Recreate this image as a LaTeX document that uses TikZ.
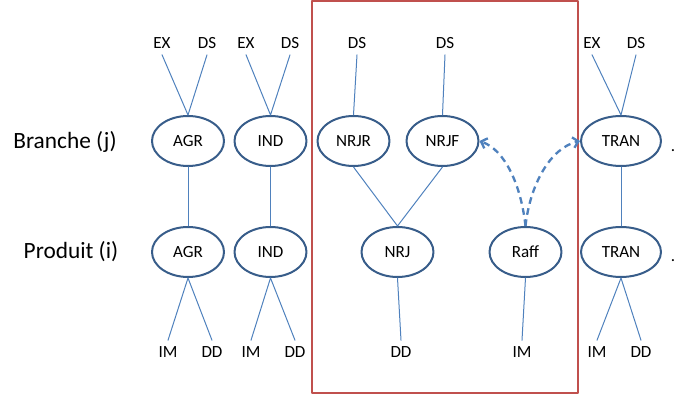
\documentclass[tikz,border=0pt]{standalone}
\usepackage{fontspec}
\setmainfont{Carlito}
\usetikzlibrary{shapes.geometric,arrows.meta}
\definecolor{ligne}{HTML}{4F81BD}
\definecolor{bord}{HTML}{385D8A}
\definecolor{cadre}{HTML}{C0504D}
\begin{document}
\begin{tikzpicture}[x=0.75pt,y=-0.75pt,>={Straight Barb[length=4pt,width=8pt]},line join=round,line cap=round,
	sec/.style={ellipse,draw=bord,line width=1.5pt,minimum width=54pt,minimum height=37.5pt,inner sep=1pt,font=\fontsize{12.8}{15}\selectfont},
	flux/.style={inner sep=4.5pt,font=\fontsize{12.8}{15}\selectfont},
	lien/.style={draw=ligne,line width=0.75pt}]
		\useasboundingbox (0,0) rectangle (676,398);
		\draw[cadre,line width=1.5pt,line cap=butt] (312,1) rectangle (578,393);
		% lignes
		\node[font=\fontsize{17.5}{21}\selectfont] (branche) at (65,142) {Branche (j)};
		\node[font=\fontsize{17.5}{21}\selectfont] (produit) at (71,252) {Produit (i)};
		% branches
		\node[sec] (agrB) at (188,141) {AGR};
		\node[sec] (indB) at (270.5,141) {IND};
		\node[sec] (nrjr) at (353.5,141) {NRJR};
		\node[sec] (nrjf) at (442.5,141) {NRJF};
		\node[sec,minimum width=60pt] (tranB) at (621,141) {TRAN};
		% produits
		\node[sec] (agrP) at (188,252) {AGR};
		\node[sec] (indP) at (270.5,252) {IND};
		\node[sec] (nrj) at (397.5,252) {NRJ};
		\node[sec] (raff) at (525.5,252) {Raff};
		\node[sec,minimum width=60pt] (tranP) at (621,252) {TRAN};
		% emplois
		\node[flux] (exA) at (162,43) {EX};
		\node[flux] (dsA) at (207,43) {DS};
		\node[flux] (exI) at (246,43) {EX};
		\node[flux] (dsI) at (290,43) {DS};
		\node[flux] (dsR) at (357,43) {DS};
		\node[flux] (dsF) at (445,43) {DS};
		\node[flux] (exT) at (592,43) {EX};
		\node[flux] (dsT) at (636,43) {DS};
		% ressources
		\node[flux] (imA) at (168,352) {IM};
		\node[flux] (ddA) at (212,352) {DD};
		\node[flux] (imI) at (251,352) {IM};
		\node[flux] (ddI) at (295,352) {DD};
		\node[flux] (ddN) at (401,352) {DD};
		\node[flux] (imR) at (522,352) {IM};
		\node[flux] (imT) at (597,352) {IM};
		\node[flux] (ddT) at (641,352) {DD};
		\node[flux,inner sep=0pt] (pt1) at (673,151) {.};
		\node[flux,inner sep=0pt] (pt2) at (673,261) {.};
		% liens
		\draw[lien] (exA.south) -- (agrB.north) -- (dsA.south);
		\draw[lien] (exI.south) -- (indB.north) -- (dsI.south);
		\draw[lien] (exT.south) -- (tranB.north) -- (dsT.south);
		\draw[lien] (dsR.south) -- (nrjr.north);
		\draw[lien] (dsF.south) -- (nrjf.north);
		\draw[lien] (agrB.south) -- (agrP.north);
		\draw[lien] (indB.south) -- (indP.north);
		\draw[lien] (tranB.south) -- (tranP.north);
		\draw[lien] (nrjr.south) -- (nrj.north) -- (nrjf.south);
		\draw[lien] (imA.north) -- (agrP.south) -- (ddA.north);
		\draw[lien] (imI.north) -- (indP.south) -- (ddI.north);
		\draw[lien] (imT.north) -- (tranP.south) -- (ddT.north);
		\draw[lien] (nrj.south) -- (ddN.north);
		\draw[lien] (raff.south) -- (imR.north);
		% raffinage
		\draw[->,ligne,line width=1.75pt,line cap=butt,dash pattern=on 5pt off 3.5pt] (raff.north) .. controls (521,185) and (505,150) .. (nrjf.east);
		\draw[->,ligne,line width=1.75pt,line cap=butt,dash pattern=on 5pt off 3.5pt] (raff.north) .. controls (530,185) and (550,148) .. (tranB.west);
		\end{tikzpicture}
\end{document}
